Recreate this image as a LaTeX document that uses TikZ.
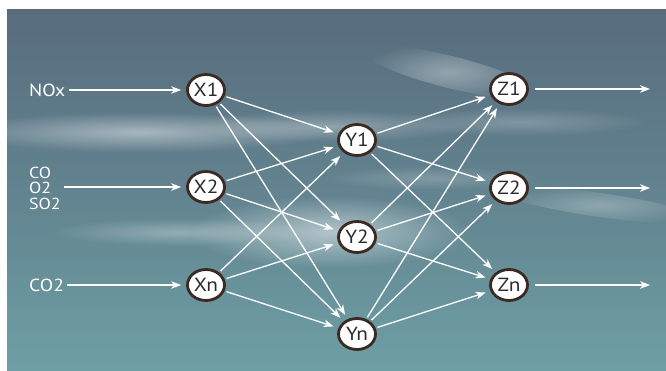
\documentclass[tikz,border=0pt]{standalone}
\usepackage{fontspec}
\setmainfont{PT Sans}
\newfontfamily\widesans[FakeStretch=1.12]{PT Sans}
\usetikzlibrary{shapes.geometric,arrows.meta,fadings}
\definecolor{bgtop}{HTML}{586C7D}
\definecolor{bgmid}{HTML}{62838F}
\definecolor{bgbot}{HTML}{6E9FA5}
\definecolor{ring}{HTML}{3A2A22}
\definecolor{ink}{HTML}{2B2B2B}
\tikzfading[name=cloudfade, inner color=transparent!0, outer color=transparent!100]
\tikzset{
  neuron/.style={ellipse, draw=ring, line width=2.8pt, fill=white, minimum width=37pt, minimum height=31pt, inner sep=0pt, text=ink, font=\widesans\fontsize{19}{19}\selectfont},
  conn/.style={white, line width=1.3pt, -{Stealth[length=10pt,width=7.5pt,inset=3pt]}, shorten >=5pt, shorten <=2pt},
  inlabel/.style={text=white, font=\widesans\fontsize{17.5}{17.5}\selectfont, inner sep=0pt, anchor=west},
  cloud/.style={white, path fading=cloudfade}
}
\begin{document}
\begin{tikzpicture}[x=1pt,y=-1pt]
\useasboundingbox (0,0) rectangle (666,371);
\fill[white] (0,0) rectangle (666,371);
\shade[top color=bgtop, bottom color=bgbot, middle color=bgmid] (7,10) rectangle (666,371);
% clouds
\begin{scope}
\clip (7,10) rectangle (666,371);
\fill[cloud, opacity=0.45] (140,132) ellipse (190pt and 20pt);
\fill[cloud, opacity=0.30] (330,126) ellipse (140pt and 16pt);
\fill[cloud, opacity=0.50] (330,232) ellipse (140pt and 36pt);
\fill[cloud, opacity=0.30] (180,232) ellipse (130pt and 14pt);
\fill[cloud, opacity=0.35, rotate around={-14:(450,72)}] (450,72) ellipse (90pt and 16pt);
\fill[cloud, opacity=0.28, rotate around={-8:(600,205)}] (600,205) ellipse (100pt and 12pt);
\fill[cloud, opacity=0.22] (520,122) ellipse (130pt and 14pt);
\fill[cloud, opacity=0.20] (430,178) ellipse (110pt and 12pt);
\end{scope}
% nodes
\node[neuron] (x1) at (206,90) {X1};
\node[neuron] (x2) at (206,187) {X2};
\node[neuron] (xn) at (206,285) {Xn};
\node[neuron] (y1) at (357,140) {Y1};
\node[neuron] (y2) at (357,237) {Y2};
\node[neuron] (yn) at (357,334) {Yn};
\node[neuron] (z1) at (509,89) {Z1};
\node[neuron] (z2) at (509,188) {Z2};
\node[neuron] (zn) at (509,285) {Zn};
% inputs
\node[inlabel] (nox) at (29,90) {NOx};
\node[inlabel, align=left, font=\widesans\fontsize{16}{15.5}\selectfont] (mix) at (29,188) {CO\\O2\\SO2};
\node[inlabel] (co2) at (29,285) {CO2};
\draw[conn, shorten <=3pt] (nox.east) -- (x1);
\draw[conn, shorten <=3pt] (mix.east |- x2) -- (x2);
\draw[conn, shorten <=3pt] (co2.east) -- (xn);
% outputs
\coordinate (o1) at (650,89);
\coordinate (o2) at (650,188);
\coordinate (on) at (650,285);
\draw[conn, shorten >=0pt, shorten <=6pt] (z1) -- (o1);
\draw[conn, shorten >=0pt, shorten <=6pt] (z2) -- (o2);
\draw[conn, shorten >=0pt, shorten <=6pt] (zn) -- (on);
% hidden connections
\foreach \a in {x1,x2,xn}{
  \foreach \b in {y1,y2,yn}{
    \draw[conn] (\a) -- (\b);
  }
}
\foreach \a in {y1,y2,yn}{
  \foreach \b in {z1,z2,zn}{
    \draw[conn] (\a) -- (\b);
  }
}
\end{tikzpicture}
\end{document}
